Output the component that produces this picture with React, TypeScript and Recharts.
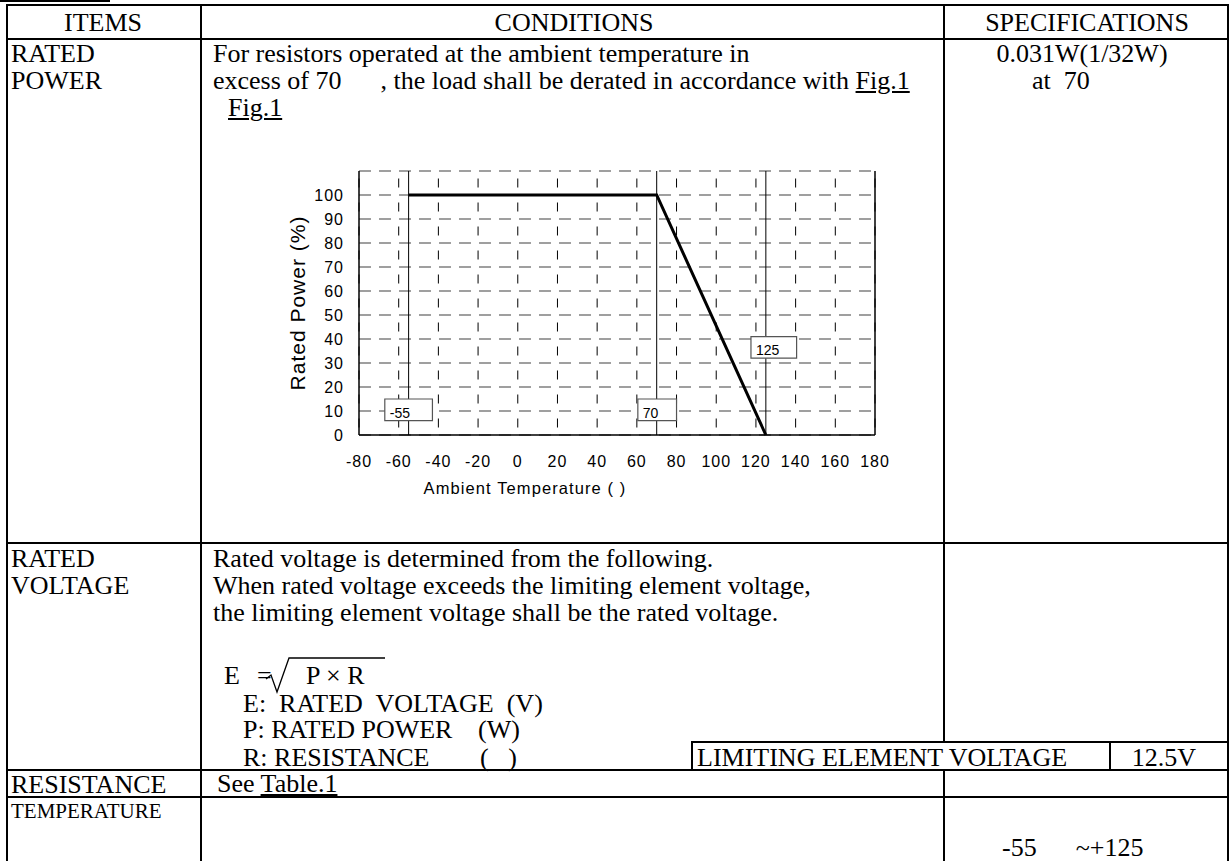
import React from "react";
import {
  LineChart,
  Line,
  XAxis,
  YAxis,
  CartesianGrid,
  ReferenceLine,
  ReferenceArea,
  Label,
} from "recharts";

// Fig.1 derating curve
const tempTicks = [-80, -60, -40, -20, 0, 20, 40, 60, 80, 100, 120, 140, 160, 180];
const powerTicks = [0, 10, 20, 30, 40, 50, 60, 70, 80, 90, 100, 110];
const curveTemp = [-55, 70, 125];
const curvePower = [100, 100, 0];
const markerTemps = [-55, 70, 125];
const markerText = ["-55", "70", "125"];
// label boxes in data units [x1, x2, y1, y2]
const markerBoxes = [
  [-67, -43, 6, 15],
  [60.5, 80, 6, 15],
  [117.5, 140.5, 32, 41],
];

const curve = curveTemp.map((t, i) => ({ temp: t, power: curvePower[i] }));

const serif = '"Liberation Serif", "Times New Roman", serif';
const sans = '"Liberation Sans", Arial, sans-serif';
const FS = 26;

function T({ x, y, size = FS, w, children }: { x: number; y: number; size?: number; w?: number; children: React.ReactNode }) {
  const lh = Math.round(size * 0.9);
  return (
    <div
      style={{
        position: "absolute",
        left: w ? x - w / 2 : x,
        width: w,
        top: y - lh / 2,
        fontSize: size,
        lineHeight: `${lh}px`,
        whiteSpace: "pre",
        textAlign: w ? "center" : "left",
        color: "#000",
      }}
    >
      {children}
    </div>
  );
}

const HL = ({ x1, x2, y, t = 2 }: { x1: number; x2: number; y: number; t?: number }) => (
  <div style={{ position: "absolute", left: x1, top: y - t / 2, width: x2 - x1, height: t, background: "#000" }} />
);
const VL = ({ x, y1, y2, t = 2 }: { x: number; y1: number; y2: number; t?: number }) => (
  <div style={{ position: "absolute", left: x - t / 2, top: y1, width: t, height: y2 - y1, background: "#000" }} />
);

const U = ({ children }: { children: React.ReactNode }) => (
  <span style={{ textDecoration: "underline", textDecorationThickness: 1.5, textUnderlineOffset: 2 }}>{children}</span>
);

function DeratingChart() {
  return (
    <LineChart
      width={640}
      height={370}
      data={curve}
      margin={{ top: 21, right: 25, left: 0, bottom: 20 }}
      style={{ fontFamily: sans }}
    >
      <CartesianGrid vertical={false} stroke="#808080" strokeWidth={1.5} strokeDasharray="12 8" />
      <CartesianGrid horizontal={false} stroke="#000" strokeWidth={1} strokeDasharray="0 7.5 9 7.5" />
      <XAxis
        dataKey="temp"
        type="number"
        domain={[-80, 180]}
        ticks={tempTicks}
        interval={0}
        tickLine={false}
        tickSize={0}
        tickMargin={21}
        height={65}
        axisLine={{ stroke: "#000", strokeWidth: 1.5 }}
        tick={{ fill: "#000", fontSize: 16, letterSpacing: 1 }}
      >
        <Label
          value="Ambient Temperature (   )"
          position="insideBottom"
          offset={6}
          dx={-92}
          fill="#000"
          fontSize={16.5}
          letterSpacing={1.1}
          style={{ whiteSpace: "pre" }}
        />
      </XAxis>
      <YAxis
        type="number"
        domain={[0, 110]}
        ticks={powerTicks}
        interval={0}
        width={99}
        tickLine={false}
        tickSize={0}
        tickMargin={15}
        axisLine={{ stroke: "#000", strokeWidth: 1.5 }}
        tick={{ fill: "#000", fontSize: 16, letterSpacing: 1 }}
        tickFormatter={(v: number) => (v > 100 ? "" : String(v))}
      >
        <Label
          value="Rated Power (%)"
          angle={-90}
          position="insideLeft"
          offset={38}
          fill="#000"
          fontSize={21}
          letterSpacing={1}
          style={{ textAnchor: "middle" }}
        />
      </YAxis>
      <ReferenceLine x={180} stroke="#000" strokeWidth={1.5} />
      {markerTemps.map((t) => (
        <ReferenceLine key={"l" + t} x={t} stroke="#000" strokeWidth={1} />
      ))}
      <Line
        type="linear"
        dataKey="power"
        stroke="#000"
        strokeWidth={3}
        dot={false}
        isAnimationActive={false}
      />
      {markerBoxes.map((b, i) => (
        <ReferenceArea
          key={"b" + i}
          x1={b[0]}
          x2={b[1]}
          y1={b[2]}
          y2={b[3]}
          fill="#fff"
          fillOpacity={1}
          stroke="#555"
          strokeWidth={1.2}
          zIndex={450}
          label={{ value: markerText[i], position: "insideLeft", offset: 5, dy: 3, fill: "#000", fontSize: 14 }}
        />
      ))}
    </LineChart>
  );
}

export default function App() {
  return (
    <div
      style={{
        position: "absolute",
        left: 0,
        top: 0,
        width: 1231,
        height: 861,
        background: "#fff",
        overflow: "hidden",
        fontFamily: serif,
      }}
    >
      {/* fragment of the line above */}
      <HL x1={0} x2={110} y={1} />

      {/* frame */}
      <HL x1={6} x2={1229} y={5} />
      <HL x1={6} x2={1229} y={39} />
      <HL x1={6} x2={1229} y={543} />
      <HL x1={6} x2={1229} y={770} />
      <HL x1={6} x2={1229} y={797} />
      <VL x={7} y1={4} y2={861} />
      <VL x={201} y1={4} y2={861} />
      <VL x={944} y1={4} y2={742} />
      <VL x={944} y1={770} y2={861} />
      <VL x={1228} y1={4} y2={861} />

      {/* header */}
      <T x={103} y={22} w={190}>ITEMS</T>
      <T x={574} y={22} w={700}>CONDITIONS</T>
      <T x={1087} y={22} w={280}>SPECIFICATIONS</T>

      {/* rated power */}
      <T x={11} y={53}>RATED</T>
      <T x={11} y={80}>POWER</T>
      <T x={213} y={53}>For resistors operated at the ambient temperature in</T>
      <T x={213} y={80}>
        {"excess of 70      , the load shall be derated in accordance with "}
        <U>Fig.1</U>
      </T>
      <T x={228} y={107}>
        <U>Fig.1</U>
      </T>
      <T x={1082} y={53} w={280}>0.031W(1/32W)</T>
      <T x={1032} y={80}>{"at  70"}</T>

      <div style={{ position: "absolute", left: 260, top: 150 }}>
        <DeratingChart />
      </div>

      {/* rated voltage */}
      <T x={11} y={558}>RATED</T>
      <T x={11} y={585}>VOLTAGE</T>
      <T x={213} y={558}>Rated voltage is determined from the following.</T>
      <T x={213} y={585}>When rated voltage exceeds the limiting element voltage,</T>
      <T x={213} y={612}>the limiting element voltage shall be the rated voltage.</T>

      <T x={224} y={675}>E</T>
      <T x={257} y={675}>=</T>
      <svg style={{ position: "absolute", left: 0, top: 0 }} width={1231} height={861}>
        <path d="M266 679 L271 675 L277 692 L289 658 L385 658" fill="none" stroke="#000" strokeWidth={1.3} />
      </svg>
      <T x={306} y={675}>{"P × R"}</T>
      <T x={243} y={703}>{"E:  RATED  VOLTAGE  (V)"}</T>
      <T x={243} y={729}>P: RATED POWER</T>
      <T x={478} y={729}>(W)</T>
      <T x={243} y={757}>R: RESISTANCE</T>
      <T x={480} y={757}>{"(   )"}</T>

      {/* limiting element voltage box */}
      <HL x1={691} x2={1229} y={742} />
      <VL x={692} y1={741} y2={771} />
      <VL x={1110} y1={741} y2={771} />
      <T x={697} y={757}>LIMITING ELEMENT VOLTAGE</T>
      <T x={1164} y={757} w={110}>12.5V</T>

      {/* resistance */}
      <T x={11} y={784}>RESISTANCE</T>
      <T x={217} y={783}>
        {"See "}
        <U>Table.1</U>
      </T>

      {/* temperature */}
      <T x={11} y={811} size={21}>TEMPERATURE</T>
      <T x={1002} y={847}>{"-55      ~+125"}</T>
    </div>
  );
}
